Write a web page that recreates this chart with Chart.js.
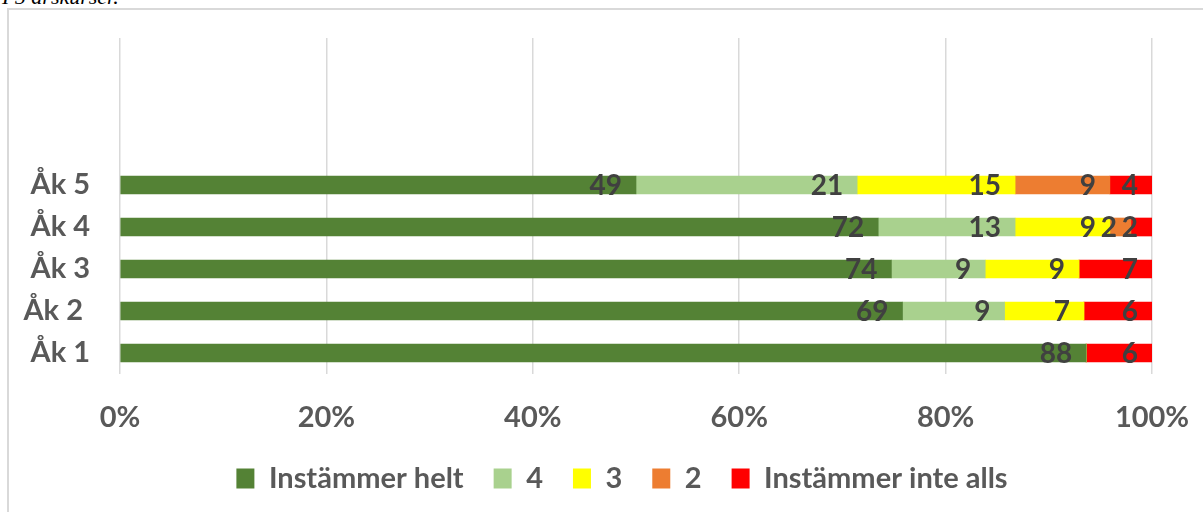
<!DOCTYPE html>
<html>
<head>
<meta charset="utf-8">
<script src="https://cdn.jsdelivr.net/npm/chart.js@4/dist/chart.umd.min.js"></script>
<style>
  html, body { margin: 0; padding: 0; background: #fff; overflow: hidden; }
  #wrap { position: relative; width: 1203px; height: 512px; }
  #frame { position: absolute; left: 7px; top: 8px; width: 1210px; height: 520px;
           border-left: 2px solid #d9d9d9; border-top: 2px solid #d9d9d9; }
  #caption { position: absolute; left: 2px; top: -16px; font: italic 22px "Liberation Serif", serif; color: #000; }
  canvas { position: absolute; left: 0; top: 0; }
</style>
</head>
<body>
<div id="wrap">
  <div id="caption">I 5 årskurser.</div>
  <div id="frame"></div>
  <canvas id="graphCanvas" width="1203" height="512"></canvas>
</div>
<script>
// Kategorier (nedifrån och upp)
const categories = ['Åk 1', 'Åk 2 ', 'Åk 3', 'Åk 4', 'Åk 5'];
const emptyRows = ['', '', ''];

// Svar per årskurs
const helt = [88, 69, 74, 72, 49];
const fyra = [0, 9, 9, 13, 21];
const tre = [0, 7, 9, 9, 15];
const tva = [0, 0, 0, 2, 9];
const inteAlls = [6, 6, 7, 2, 4];

const seriesNames = ['Instämmer helt', '4', '3', '2', 'Instämmer inte alls'];
const seriesColors = ['#548235', '#a9d18e', '#ffff00', '#ed7d31', '#ff0000'];
const xTicks = ['0%', '20%', '40%', '60%', '80%', '100%'];

const series = [helt, fyra, tre, tva, inteAlls];
const totals = categories.map((c, i) => series.reduce((s, arr) => s + arr[i], 0));

const font = '"Lato", "Open Sans", sans-serif';

// Etiketter i slutet av varje stapel
const valueLabels = {
    id: 'valueLabels',
    afterLayout(chart) {
        // flytta förklaringen lite åt höger, som i originalet
        chart.legend.left += 46;
        chart.legend.right += 46;
    },
    afterDatasetsDraw(chart) {
        const ctx = chart.ctx;
        ctx.save();
        ctx.font = 'bold 28px ' + font;
        ctx.fillStyle = '#404040';
        ctx.textAlign = 'right';
        ctx.textBaseline = 'middle';
        chart.data.datasets.forEach((ds, i) => {
            chart.getDatasetMeta(i).data.forEach((bar, j) => {
                const v = series[i][j];
                if (!v) return;
                ctx.fillText(String(v), bar.x - 14, bar.y + 1);
            });
        });
        ctx.restore();
    }
};

// Inga extra marginaler från axlarna
function noPad(s) {
    s.paddingLeft = 0;
    s.paddingRight = 0;
    s.paddingTop = 0;
    s.paddingBottom = 0;
}

const ctx = document.getElementById('graphCanvas').getContext('2d');
const chart = new Chart(ctx, {
    type: 'bar',
    data: {
        labels: categories.concat(emptyRows),
        datasets: series.map((arr, i) => ({
            label: seriesNames[i],
            data: arr.map((v, j) => v / totals[j] * 100),
            backgroundColor: seriesColors[i],
            borderWidth: 0,
            barThickness: 18
        }))
    },
    options: {
        indexAxis: 'y',
        responsive: false,
        animation: false,
        layout: { padding: { top: 38, right: 51, bottom: 9, left: 0 } },
        plugins: {
            tooltip: { enabled: false },
            legend: {
                position: 'bottom',
                labels: {
                    boxWidth: 18,
                    boxHeight: 20,
                    padding: 30,
                    color: '#595959',
                    font: { family: font, size: 29, weight: 'bold' }
                }
            }
        },
        scales: {
            x: {
                stacked: true,
                min: 0,
                max: 100,
                afterFit: (s) => { s.height = 60; noPad(s); },
                grid: { color: '#d9d9d9', lineWidth: 1.5, drawTicks: false },
                border: { display: false },
                ticks: {
                    stepSize: 20,
                    padding: 26,
                    color: '#595959',
                    font: { family: font, size: 29, weight: 'bold' },
                    callback: (v) => xTicks[v / 20]
                }
            },
            y: {
                stacked: true,
                reverse: true,
                afterFit: (s) => { s.width = 120; noPad(s); },
                grid: { display: false },
                border: { display: false },
                ticks: {
                    padding: 22,
                    color: '#595959',
                    font: { family: font, size: 29, weight: 'bold' }
                }
            }
        }
    },
    plugins: [valueLabels]
});
</script>
</body>
</html>
